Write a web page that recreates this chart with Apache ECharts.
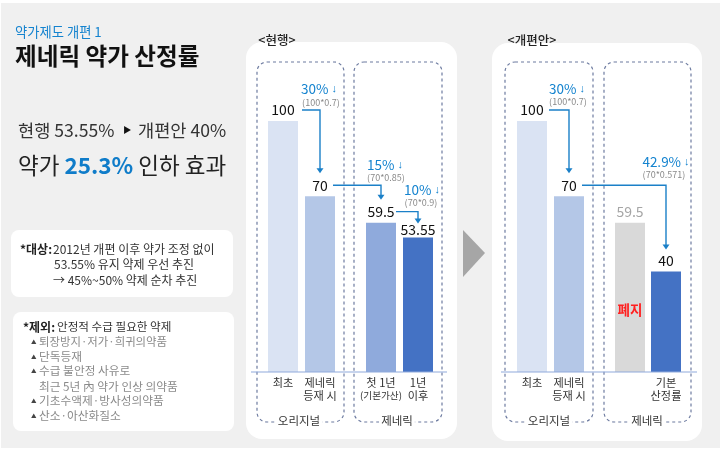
<!DOCTYPE html>
<html>
<head>
<meta charset="utf-8">
<style>
html,body{margin:0;padding:0;background:#fff;}
#main{width:723px;height:454px;}
</style>
<script src="https://cdn.jsdelivr.net/npm/echarts@6/dist/echarts.min.js"></script>
</head>
<body>
<div id="main"></div>
<script>
// 차트 데이터
var originalCats = ['최초', '제네릭\n등재 시'];
var genericCats = ['첫 1년\n{s|(기본가산)}', '1년\n이후'];
var reformCats = ['', '기본\n산정률'];
var originalValues = [100, 70];
var genericValues = [59.5, 53.55];
var reformValues = [59.5, 40];

var FONT = '"Noto Sans CJK KR","Noto Sans",sans-serif';
var BLUE = '#1483cf', LINE = '#1b80c8', GRAY = '#8a8a8a', DARK = '#222';

var chart = echarts.init(document.getElementById('main'));

function barItem(value, color, labelColor, distance) {
    return {
        value: value,
        itemStyle: {color: color},
        label: {color: labelColor || '#111', distance: distance === undefined ? 4 : distance}
    };
}

function makeGrid(left, right) {
    return {left: left, width: right - left, top: 121, height: 251, containLabel: false};
}

function makeX(index, cats) {
    return {
        type: 'category', gridIndex: index, data: cats, z: 10,
        axisLine: {show: false}, axisTick: {show: false},
        axisLabel: {
            interval: 0, margin: 4, color: '#333', fontFamily: FONT, fontSize: 11.2, lineHeight: 13,
            verticalAlign: 'top',
            rich: {s: {fontFamily: FONT, fontSize: 9.6, color: '#333', lineHeight: 13}}
        }
    };
}

function makeY(index) {
    return {type: 'value', gridIndex: index, min: 0, max: 100, show: false, splitLine: {show: false}};
}

function makeBars(index, data) {
    return {
        type: 'bar', xAxisIndex: index, yAxisIndex: index, barWidth: 30, data: data, animation: false,
        label: {show: true, position: 'top', fontFamily: FONT, fontSize: 14, color: '#111'}
    };
}

// 텍스트 헬퍼
function txt(x, y, text, size, color, weight, align) {
    return {
        type: 'text', x: x, y: y, z: 20,
        style: {
            text: text, fill: color || DARK, fontFamily: FONT, fontSize: size,
            fontWeight: weight || 'normal', align: align || 'left', verticalAlign: 'middle'
        }
    };
}

// 인하율 표기 (화살표는 작게)
function rate(x, y, pct) {
    return {
        type: 'text', x: x, y: y, z: 20,
        style: {
            text: '{a|' + pct + '}{b| ↓}', align: 'center', verticalAlign: 'middle',
            rich: {
                a: {fontFamily: FONT, fontSize: 13.5, fill: BLUE},
                b: {fontFamily: '"Liberation Sans"', fontSize: 11, fill: BLUE}
            }
        }
    };
}

function box(x, y, w, h, r, fill) {
    return {type: 'rect', z: 1, shape: {x: x, y: y, width: w, height: h, r: r}, style: {fill: fill}};
}

function dashBox(x, y, w, h) {
    return {
        type: 'rect', z: 5, shape: {x: x, y: y, width: w, height: h, r: 10},
        style: {fill: 'none', stroke: '#6d7ba0', lineWidth: 1.2, lineDash: [3, 3]}
    };
}

function tagged(x, y, text) {
    var t = txt(x, y, text, 11.5, '#333', 'normal', 'center');
    t.style.backgroundColor = '#fff';
    t.style.padding = [0, 2];
    return t;
}

// 데이터 값에서 위치를 계산하는 꺾인 화살표
function connector(g1, c1, v1, pad, g2, c2, v2, gap) {
    var a = chart.convertToPixel({gridIndex: g1}, [c1, v1]);
    var b = chart.convertToPixel({gridIndex: g2}, [c2, v2]);
    var sy = a[1] - 11, sx = a[0] + pad, ex = b[0], ey = b[1] - gap;
    return [
        {type: 'polyline', z: 15, shape: {points: [[sx, sy], [ex, sy], [ex, ey - 4]]},
            style: {stroke: LINE, lineWidth: 1.4, fill: 'none'}},
        {type: 'polygon', z: 15, shape: {points: [[ex - 3.5, ey - 5], [ex + 3.5, ey - 5], [ex, ey]]},
            style: {fill: LINE}}
    ];
}

chart.setOption({
    animation: false,
    grid: [makeGrid(264.5, 338.5), makeGrid(362.5, 436.5), makeGrid(513.5, 587.5), makeGrid(612, 684)],
    xAxis: [makeX(0, originalCats), makeX(1, genericCats), makeX(2, originalCats), makeX(3, reformCats)],
    yAxis: [makeY(0), makeY(1), makeY(2), makeY(3)],
    series: [
        makeBars(0, [barItem(originalValues[0], '#dae3f3'), barItem(originalValues[1], '#b4c7e7')]),
        makeBars(1, [barItem(genericValues[0], '#8faadc'), barItem(genericValues[1], '#4472c4', '#111', 1)]),
        makeBars(2, [barItem(originalValues[0], '#dae3f3'), barItem(originalValues[1], '#b4c7e7')]),
        makeBars(3, [barItem(reformValues[0], '#d9d9d9', '#a6a6a6'), barItem(reformValues[1], '#4472c4')])
    ]
});

var baseY = chart.convertToPixel({gridIndex: 0}, [0, 0])[1];

var elements = [
    box(1, 3, 719, 445, 0, '#f0f0f0'),
    box(246, 42, 211, 397, 16, '#fff'),
    box(492, 43, 210, 398, 16, '#fff'),
    box(11, 230, 222, 67, 8, '#fff'),
    box(13, 312, 221, 119, 8, '#fff'),
    {type: 'polygon', z: 1, shape: {points: [[463, 230], [485, 253], [463, 277]]}, style: {fill: '#a6a6a6'}},
    dashBox(257, 62, 87, 360), dashBox(354, 62, 88, 360),
    dashBox(505, 62, 88, 360), dashBox(604, 62, 87, 360),
    {type: 'line', z: 6, shape: {x1: 251, y1: baseY, x2: 447, y2: baseY}, style: {stroke: '#8faadc', lineWidth: 1.2}},
    {type: 'line', z: 6, shape: {x1: 501, y1: baseY, x2: 697, y2: baseY}, style: {stroke: '#8faadc', lineWidth: 1.2}},

    txt(15, 32, '약가제도 개편 1', 13.3, BLUE),
    txt(15, 56, '제네릭 약가 산정률', 23.6, '#111', 'bold'),
    txt(18, 130, '현행 53.55%', 17.6, '#333'),
    txt(123, 130, '▶', 8.5, '#111'),
    txt(138, 130, '개편안 40%', 17.6, '#333'),
    {
        type: 'text', x: 18, y: 165, z: 20,
        style: {
            text: '{a|약가 }{b|25.3%}{a| 인하 효과}', verticalAlign: 'middle',
            rich: {
                a: {fontFamily: FONT, fontSize: 22.5, fill: '#222'},
                b: {fontFamily: FONT, fontSize: 22.5, fontWeight: 'bold', fill: '#0f7cc9'}
            }
        }
    },

    txt(20, 249, '*대상:', 12, '#222', 'bold'),
    txt(53, 249, '2012년 개편 이후 약가 조정 없이', 12, '#333'),
    txt(54, 264, '53.55% 유지 약제 우선 추진', 12, '#333'),
    txt(53, 280, '→ 45%~50% 약제 순차 추진', 12, '#333'),
    txt(23, 327, '*제외:', 12, '#222', 'bold'),
    txt(57, 327, '안정적 수급 필요한 약제', 11.6, '#333'),
    txt(31, 342, '▲', 5.5, '#444'), txt(39, 342, '퇴장방지·저가·희귀의약품', 11.4, GRAY),
    txt(31, 357, '▲', 5.5, '#444'), txt(39, 357, '단독등재', 11.7, GRAY),
    txt(31, 371, '▲', 5.5, '#444'), txt(39, 371, '수급 불안정 사유로', 11.7, GRAY),
    txt(39, 387, '최근 5년 內 약가 인상 의약품', 11.7, GRAY),
    txt(31, 401, '▲', 5.5, '#444'), txt(39, 401, '기초수액제·방사성의약품', 11.7, GRAY),
    txt(31, 416, '▲', 5.5, '#444'), txt(39, 416, '산소·아산화질소', 11.7, GRAY),

    txt(277, 40, '<현행>', 12.5, '#222', '500', 'center'),
    txt(532, 40, '<개편안>', 12.5, '#222', '500', 'center'),

    rate(319, 89, '30%'),
    txt(321, 103, '(100*0.7)', 9, GRAY, 'normal', 'center'),
    rate(385, 165, '15%'),
    txt(386, 178, '(70*0.85)', 9, GRAY, 'normal', 'center'),
    rate(422, 190, '10%'),
    txt(421, 203, '(70*0.9)', 9, GRAY, 'normal', 'center'),
    rate(567, 89, '30%'),
    txt(568, 102, '(100*0.7)', 9, GRAY, 'normal', 'center'),
    rate(666, 162, '42.9%'),
    txt(664, 175, '(70*0.571)', 9, GRAY, 'normal', 'center'),
    txt(630, 310, '폐지', 13.5, '#ff2020', 'bold', 'center'),

    tagged(299, 421, '오리지널'), tagged(397, 421, '제네릭'),
    tagged(549, 421, '오리지널'), tagged(647, 421, '제네릭')
];

elements = elements.concat(
    connector(0, 0, originalValues[0], 19, 0, 1, originalValues[1], 23),
    connector(0, 1, originalValues[1], 13, 1, 0, genericValues[0], 23),
    connector(1, 0, genericValues[0], 15, 1, 1, genericValues[1], 14),
    connector(2, 0, originalValues[0], 17, 2, 1, originalValues[1], 23),
    connector(2, 1, originalValues[1], 13, 3, 1, reformValues[1], 22)
);

chart.setOption({graphic: {elements: elements}});
</script>
</body>
</html>
